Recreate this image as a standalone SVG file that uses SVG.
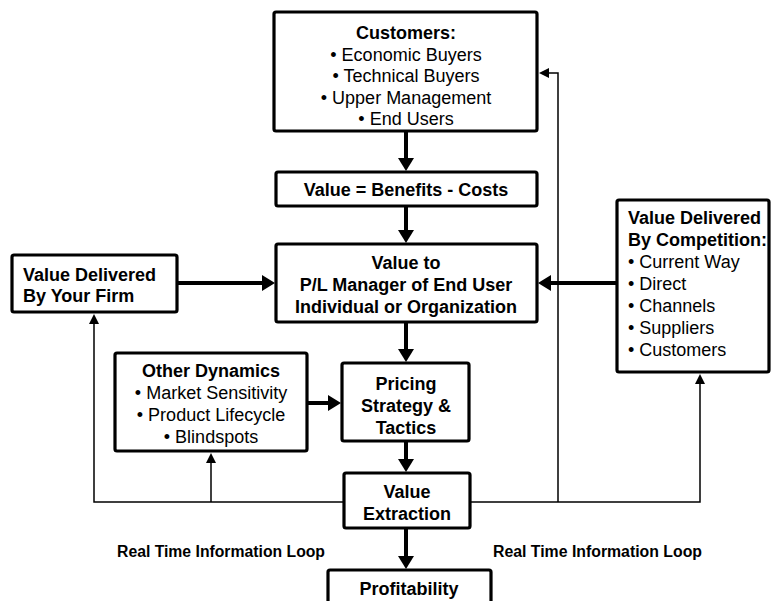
<svg xmlns="http://www.w3.org/2000/svg" width="772" height="601" viewBox="0 0 772 601">
<defs>
<style>
.box{fill:#fff;stroke:#000;stroke-width:3.2;stroke-linejoin:round}
text{font-family:"Liberation Sans",Arial,sans-serif;font-size:18px;fill:#000}
.b{font-weight:bold}
.c{text-anchor:middle}
.loop{font-weight:bold;font-size:16px}
.thick{fill:none;stroke:#000;stroke-width:4}
.thin{fill:none;stroke:#000;stroke-width:1.5}
</style>
<marker id="ah" markerUnits="userSpaceOnUse" viewBox="0 0 13 16" refX="0" refY="8" markerWidth="13" markerHeight="16" orient="auto">
<path d="M0,0 L13,8 L0,16 z" fill="#000"/>
</marker>
<marker id="as" markerUnits="userSpaceOnUse" viewBox="0 0 10 10" refX="0" refY="5" markerWidth="10" markerHeight="10" orient="auto">
<path d="M0,0 L10,5 L0,10 z" fill="#000"/>
</marker>
</defs>
<rect width="772" height="601" fill="#fff"/>
<g id="connectors">
<path class="thick" d="M406,131 V158" marker-end="url(#ah)"/>
<path class="thick" d="M406,206 V230" marker-end="url(#ah)"/>
<path class="thick" d="M177,283 H262" marker-end="url(#ah)"/>
<path class="thick" d="M617,283 H551" marker-end="url(#ah)"/>
<path class="thick" d="M406,322 V349" marker-end="url(#ah)"/>
<path class="thick" d="M307,403 H328" marker-end="url(#ah)"/>
<path class="thick" d="M406,441 V459" marker-end="url(#ah)"/>
<path class="thick" d="M406,528 V556" marker-end="url(#ah)"/>
<path class="thin" d="M344,502 H94 V324" marker-end="url(#as)"/>
<path class="thin" d="M211,502 V463" marker-end="url(#as)"/>
<path class="thin" d="M470,502 H700 V384" marker-end="url(#as)"/>
<path class="thin" d="M558,502 V73 H549" marker-end="url(#as)"/>
</g>
<g id="customers">
<rect class="box" x="274" y="12" width="263" height="119" rx="2"/>
<text class="b c" x="406" y="39">Customers:</text>
<text class="c" x="406" y="60.5">• Economic Buyers</text>
<text class="c" x="406" y="82">• Technical Buyers</text>
<text class="c" x="406" y="103.5">• Upper Management</text>
<text class="c" x="406" y="125">• End Users</text>
</g>
<g id="value-equation">
<rect class="box" x="276" y="172" width="261" height="34" rx="2"/>
<text class="b c" x="406" y="195.5">Value = Benefits - Costs</text>
</g>
<g id="value-to-pl">
<rect class="box" x="276" y="244" width="261" height="78" rx="2"/>
<text class="b c" x="406" y="268.5">Value to</text>
<text class="b c" x="406" y="290.5">P/L Manager of End User</text>
<text class="b c" x="406" y="312.5">Individual or Organization</text>
</g>
<g id="your-firm">
<rect class="box" x="12" y="255" width="165" height="57" rx="2"/>
<text class="b" x="23" y="281">Value Delivered</text>
<text class="b" x="23" y="302">By Your Firm</text>
</g>
<g id="competition">
<rect class="box" x="617" y="200" width="152" height="172" rx="2"/>
<text class="b" x="628" y="224">Value Delivered</text>
<text class="b" x="628" y="246">By Competition:</text>
<text x="628" y="268">• Current Way</text>
<text x="628" y="290">• Direct</text>
<text x="628" y="312">• Channels</text>
<text x="628" y="334">• Suppliers</text>
<text x="628" y="356">• Customers</text>
</g>
<g id="other-dynamics">
<rect class="box" x="115" y="353" width="192" height="98" rx="2"/>
<text class="b c" x="211" y="377">Other Dynamics</text>
<text class="c" x="211" y="399">• Market Sensitivity</text>
<text class="c" x="211" y="421">• Product Lifecycle</text>
<text class="c" x="211" y="443">• Blindspots</text>
</g>
<g id="pricing">
<rect class="box" x="342" y="363" width="127" height="78" rx="2"/>
<text class="b c" x="406" y="389.5">Pricing</text>
<text class="b c" x="406" y="411.5">Strategy &amp;</text>
<text class="b c" x="406" y="433.5">Tactics</text>
</g>
<g id="value-extraction">
<rect class="box" x="344" y="473" width="126" height="55" rx="2"/>
<text class="b c" x="407" y="498">Value</text>
<text class="b c" x="407" y="520">Extraction</text>
</g>
<g id="profitability">
<rect class="box" x="328" y="570" width="163" height="45" rx="2"/>
<text class="b c" x="409" y="594.5">Profitability</text>
</g>
<g id="loop-labels">
<text class="loop" x="117" y="557" textLength="208" lengthAdjust="spacingAndGlyphs">Real Time Information Loop</text>
<text class="loop" x="493" y="557" textLength="209" lengthAdjust="spacingAndGlyphs">Real Time Information Loop</text>
</g>
</svg>
